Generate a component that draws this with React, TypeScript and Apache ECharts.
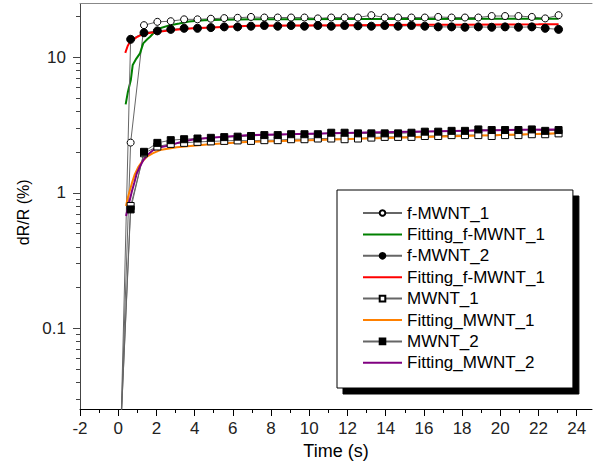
import React, { useEffect, useRef } from "react";
import * as echarts from "echarts";

// ---- data ----
const sampleTimes = [
  0.15, 0.65, 1.35, 2.05, 2.75, 3.45, 4.15, 4.85, 5.55, 6.25, 6.95, 7.65, 8.35, 9.05, 9.75, 10.45, 11.15,
  11.85, 12.55, 13.25, 13.95, 14.65, 15.35, 16.05, 16.75, 17.45, 18.15, 18.85, 19.55, 20.25, 20.95, 21.65,
  22.35, 23.05,
];
const fMWNT1 = [
  0.02, 2.35, 17.3, 18.3, 18.5, 19.1, 19.1, 19.3, 19.5, 19.6, 19.9, 19.7, 19.7, 19.7, 19.7, 19.4, 19.7, 19.7,
  19.7, 20.5, 19.7, 19.7, 19.7, 19.7, 19.9, 19.7, 19.7, 19.7, 20.2, 20.2, 20.2, 19.9, 19.4, 20.5,
];
const fMWNT2 = [
  0.02, 13.6, 15.2, 15.7, 16.1, 16.4, 16.4, 16.6, 16.8, 16.8, 17.0, 17.2, 17.0, 17.2, 17.0, 17.2, 17.0,
  17.2, 17.1, 17.0, 17.2, 17.0, 17.2, 17.0, 16.8, 16.8, 16.7, 16.8, 16.7, 16.8, 16.7, 16.8, 16.4, 16.1,
];
const MWNT1 = [
  0.02, 0.8, 1.96, 2.2, 2.3, 2.34, 2.38, 2.4, 2.42, 2.44, 2.42, 2.45, 2.45, 2.49, 2.49, 2.52, 2.52, 2.49, 2.52,
  2.56, 2.59, 2.59, 2.59, 2.63, 2.63, 2.67, 2.67, 2.67, 2.63, 2.67, 2.67, 2.71, 2.71, 2.75,
];
const MWNT2 = [
  0.02, 0.755, 2.01, 2.34, 2.45, 2.49, 2.52, 2.55, 2.58, 2.6, 2.63, 2.67, 2.67, 2.71, 2.71, 2.71, 2.78, 2.78,
  2.75, 2.75, 2.75, 2.75, 2.78, 2.83, 2.83, 2.87, 2.87, 2.94, 2.91, 2.91, 2.91, 2.94, 2.87, 2.91,
];

const fitF1Times = [0.39, 0.5, 0.66, 0.76, 0.95, 1.14, 1.31, 1.52, 1.67, 1.9, 2.19, 2.71, 3.2, 3.7, 4.5, 5.5, 7, 9, 12, 16, 20, 23.05];
const fitF1Values = [4.5, 5.5, 6.8, 8.8, 9.8, 10.7, 12.7, 13.6, 14.2, 15.4, 16.4, 17.3, 17.8, 18.4, 18.8, 19.0, 19.1, 19.15, 19.2, 19.25, 19.28, 19.3];

const fitF2Times = [0.37, 0.5, 0.65, 0.88, 1.0, 1.31, 1.7, 2.19, 3.0, 3.92, 5.5, 6.9, 9, 12, 14, 16, 18, 20, 22, 23.05];
const fitF2Values = [10.8, 12.2, 13.2, 13.8, 14.2, 14.9, 15.2, 15.5, 16.0, 16.4, 16.8, 17.1, 17.2, 17.3, 17.35, 17.4, 17.45, 17.5, 17.55, 17.6];

const fitM1Times = [0.41, 0.5, 0.71, 0.85, 1.06, 1.25, 1.5, 1.8, 2.19, 3.06, 4.8, 6.9, 10, 13, 16, 19, 21, 23.05];
const fitM1Values = [0.8, 0.92, 1.17, 1.35, 1.56, 1.7, 1.85, 1.96, 2.07, 2.17, 2.29, 2.38, 2.45, 2.52, 2.59, 2.65, 2.7, 2.75];

const fitM2Times = [0.41, 0.55, 0.71, 0.85, 0.97, 1.15, 1.32, 1.55, 1.84, 2.2, 2.71, 3.3, 3.93, 4.8, 6.9, 10, 13, 16, 19, 21, 23.05];
const fitM2Values = [0.675, 0.82, 1.02, 1.2, 1.39, 1.58, 1.75, 1.92, 2.07, 2.17, 2.25, 2.38, 2.48, 2.55, 2.67, 2.73, 2.79, 2.84, 2.89, 2.92, 2.94];

const seriesNames = [
  "f-MWNT_1",
  "Fitting_f-MWNT_1",
  "f-MWNT_2",
  "Fitting_f-MWNT_2",
  "MWNT_1",
  "Fitting_MWNT_1",
  "MWNT_2",
  "Fitting_MWNT_2",
];
const legendLabels = [
  "f-MWNT_1",
  "Fitting_f-MWNT_1",
  "f-MWNT_2",
  "Fitting_f-MWNT_1",
  "MWNT_1",
  "Fitting_MWNT_1",
  "MWNT_2",
  "Fitting_MWNT_2",
];
const isFit = [false, true, false, true, false, true, false, true];

const xTickLabels = [-2, 0, 2, 4, 6, 8, 10, 12, 14, 16, 18, 20, 22, 24];
const xMinorTicks = [-1, 1, 3, 5, 7, 9, 11, 13, 15, 17, 19, 21, 23];
const yMajorTicks = [0.1, 1, 10];
const yMinorTicks = [
  0.03, 0.04, 0.05, 0.06, 0.07, 0.08, 0.09, 0.2, 0.3, 0.4, 0.5, 0.6, 0.7, 0.8, 0.9, 2, 3, 4, 5, 6, 7, 8, 9, 20,
];
const yMin = 0.0254;
const yMax = 25;
const xMin = -2;
const xMax = 24.8;

const FONT = "'Liberation Sans', Arial, sans-serif";
const lg = (v: number) => Math.log10(v);
const pairs = (ts: number[], vs: number[]) => ts.map((t, i) => [t, lg(vs[i])]);

export default function App() {
  const ref = useRef<HTMLDivElement>(null);
  useEffect(() => {
    if (!ref.current) return;
    const chart = echarts.init(ref.current, null, { renderer: "svg" });
    const dataLine = { color: "#666", width: 1 };
    const option: any = {
      animation: false,
      backgroundColor: "#fff",
      textStyle: { fontFamily: FONT },
      grid: { left: 80, top: 3.5, width: 512, height: 405.5, outerBoundsMode: "none", containLabel: false },
      legend: {
        orient: "vertical",
        left: 337,
        top: 190,
        data: seriesNames.map((n, i) =>
          isFit[i] ? { name: n, itemStyle: { color: "rgba(0,0,0,0)", borderWidth: 0, opacity: 0 } } : { name: n }
        ),
        formatter: (n: string) => legendLabels[seriesNames.indexOf(n)],
        itemWidth: 39,
        itemHeight: 7,
        itemGap: 4.4,
        padding: [14.5, 28, 16.7, 25],
        textStyle: { fontSize: 17, lineHeight: 17, color: "#000", fontFamily: FONT },
        borderColor: "#000",
        borderWidth: 1,
        backgroundColor: "#fff",
        shadowColor: "#000",
        shadowBlur: 0,
        shadowOffsetX: 6,
        shadowOffsetY: 6,
        selectedMode: false,
      },
      xAxis: [
        {
          type: "value",
          min: xMin,
          max: xMax,
          position: "bottom",
          name: "Time (s)",
          nameLocation: "middle",
          nameGap: 32,
          nameTextStyle: { fontSize: 18, color: "#000", fontFamily: FONT },
          axisLine: { onZero: false, lineStyle: { color: "#000", width: 1 } },
          axisTick: { customValues: xTickLabels, length: 7, lineStyle: { color: "#000" } },
          axisLabel: { customValues: xTickLabels, fontSize: 17, margin: 11, color: "#222", fontFamily: FONT },
          splitLine: { show: false },
        },
        {
          type: "value",
          min: xMin,
          max: xMax,
          position: "bottom",
          axisLine: { show: false, onZero: false },
          axisTick: { customValues: xMinorTicks, length: 4, lineStyle: { color: "#000" } },
          axisLabel: { show: false },
          splitLine: { show: false },
        },
        {
          type: "value",
          min: xMin,
          max: xMax,
          position: "top",
          axisLine: { show: true, onZero: false, lineStyle: { color: "#888", width: 1 } },
          axisTick: { show: false },
          axisLabel: { show: false },
          splitLine: { show: false },
        },
      ],
      yAxis: [
        {
          type: "value",
          min: lg(yMin),
          max: lg(yMax),
          position: "left",
          name: "dR/R (%)",
          nameLocation: "middle",
          nameGap: 46,
          nameTextStyle: { fontSize: 16, color: "#000", fontFamily: FONT, padding: [0, 12, 0, 0] },
          axisLine: { show: true, onZero: false, lineStyle: { color: "#444", width: 1 } },
          axisTick: { customValues: yMajorTicks.map(lg), length: 7, lineStyle: { color: "#444" } },
          axisLabel: {
            customValues: yMajorTicks.map(lg),
            formatter: (v: number) => String(parseFloat(Math.pow(10, v).toPrecision(3))),
            fontSize: 17,
            margin: 14,
            color: "#222",
            fontFamily: FONT,
          },
          splitLine: { show: false },
        },
        {
          type: "value",
          min: lg(yMin),
          max: lg(yMax),
          position: "left",
          axisLine: { show: false, onZero: false },
          axisTick: { customValues: yMinorTicks.map(lg), length: 4, lineStyle: { color: "#444" } },
          axisLabel: { show: false },
          splitLine: { show: false },
        },
      ],
      series: [
        {
          name: seriesNames[0],
          type: "line",
          data: pairs(sampleTimes, fMWNT1),
          symbol: "circle",
          symbolSize: 7,
          itemStyle: { color: "#fff", borderColor: "#000", borderWidth: 1 },
          lineStyle: dataLine,
        },
        {
          name: seriesNames[1],
          type: "line",
          data: pairs(fitF1Times, fitF1Values),
          symbol: "none",
          itemStyle: { color: "#008000" },
          lineStyle: { color: "#008000", width: 2 },
        },
        {
          name: seriesNames[2],
          type: "line",
          data: pairs(sampleTimes, fMWNT2),
          symbol: "circle",
          symbolSize: 8,
          itemStyle: { color: "#000", borderColor: "#000", borderWidth: 1 },
          lineStyle: dataLine,
        },
        {
          name: seriesNames[3],
          type: "line",
          data: pairs(fitF2Times, fitF2Values),
          symbol: "none",
          itemStyle: { color: "#ff0000" },
          lineStyle: { color: "#ff0000", width: 2 },
        },
        {
          name: seriesNames[4],
          type: "line",
          data: pairs(sampleTimes, MWNT1),
          symbol: "rect",
          symbolSize: 7,
          itemStyle: { color: "#fff", borderColor: "#000", borderWidth: 1 },
          lineStyle: dataLine,
        },
        {
          name: seriesNames[5],
          type: "line",
          data: pairs(fitM1Times, fitM1Values),
          symbol: "none",
          itemStyle: { color: "#ff8000" },
          lineStyle: { color: "#ff8000", width: 2 },
        },
        {
          name: seriesNames[6],
          type: "line",
          data: pairs(sampleTimes, MWNT2),
          symbol: "rect",
          symbolSize: 7,
          itemStyle: { color: "#000", borderColor: "#000", borderWidth: 1 },
          lineStyle: dataLine,
        },
        {
          name: seriesNames[7],
          type: "line",
          data: pairs(fitM2Times, fitM2Values),
          symbol: "none",
          itemStyle: { color: "#800080" },
          lineStyle: { color: "#800080", width: 2 },
        },
      ],
    };
    chart.setOption(option);
    return () => chart.dispose();
  }, []);
  return (
    <div
      ref={ref}
      style={{ position: "fixed", left: 0, top: 0, width: 593, height: 468, background: "#fff" }}
    />
  );
}
